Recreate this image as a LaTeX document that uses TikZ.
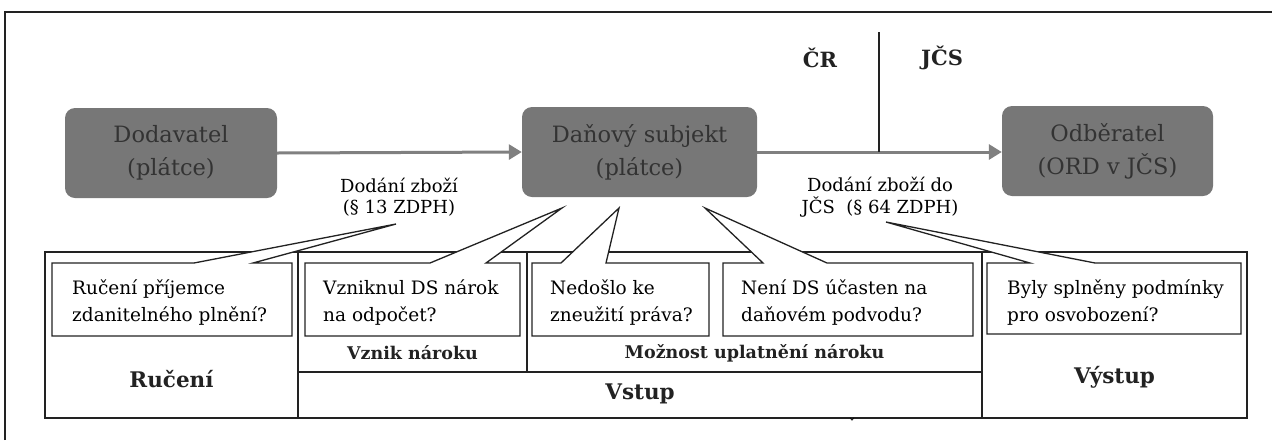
\documentclass[tikz,border=0pt]{standalone}
\usepackage{fontspec}
\setmainfont{DejaVu Serif}
\usetikzlibrary{arrows.meta}
\definecolor{boxgray}{HTML}{777777}
\definecolor{boxtext}{HTML}{333333}
\definecolor{arrgray}{HTML}{808080}
\definecolor{ink}{HTML}{222222}
\begin{document}
\begin{tikzpicture}[x=1pt,y=-1pt,
  party/.style={fill=boxgray, rounded corners=10pt, minimum width=#1, minimum height=90pt,
    inner sep=0pt, text=boxtext, font=\fontsize{22.5}{33}\selectfont, align=center},
  arr/.style={draw=arrgray, line width=3pt, -{Triangle[length=13pt,width=15pt]}},
  lbl/.style={font=\fontsize{18}{21.5}\selectfont, align=center, inner sep=0pt, text=black},
  qtext/.style={font=\fontsize{18.5}{27}\selectfont, align=left, inner sep=0pt, anchor=west, text=black},
  big/.style={font=\fontsize{21.5}{24}\bfseries\selectfont, inner sep=0pt, text=ink},
  sub/.style={font=\fontsize{17.5}{20}\bfseries\selectfont, inner sep=0pt, text=ink},
  tbl/.style={draw=ink, line width=1.3pt},
  callout/.style={draw=ink, line width=1.3pt, fill=white, line join=miter},
  frameline/.style={draw=ink, line width=2pt}
]
\useasboundingbox (0,0) rectangle (1282,440);

% outer frame (left and top)
\draw[frameline] (5,440) -- (5,12) -- (1272,12);

% parties
\node[party=212pt] (dod) at (171,153) {Dodavatel\\(plátce)};
\node[party=235pt] (dan) at (639.5,152) {Daňový subjekt\\(plátce)};
\node[party=211pt] (odb) at (1107.5,151) {Odběratel\\(ORD v JČS)};

\draw[arr] (dod.east) -- (dan.west);
\draw[arr] (dan.east) -- (odb.west |- dan.east);

% border CR / JCS
\coordinate (btop) at (879,32);
\coordinate (bbot) at (879,152);
\draw[draw=ink, line width=1.6pt] (btop) -- (bbot);
\node[big, font=\fontsize{21}{24}\bfseries\selectfont] (cr) at (820,58) {ČR};
\node[big, font=\fontsize{21}{24}\bfseries\selectfont] (jcs) at (942,58) {JČS};

% flow labels
\node[lbl] (l1) at (399,197) {Dodání zboží\\(§ 13 ZDPH)};
\node[lbl] (l2) at (880,197) {Dodání zboží do\\JČS~ (§ 64 ZDPH)};

% table
\draw[tbl] (45,252) rectangle (298,418);
\draw[tbl] (298,252) rectangle (982,418);
\draw[tbl] (982,252) rectangle (1247,418);
\draw[tbl] (298,372) -- (982,372);
\draw[tbl] (527,252) -- (527,372);

% callouts
\draw[callout] (52,336) -- (52,263) -- (194,263) -- (396,224) -- (253,263) -- (292,263) -- (292,336) -- cycle;
\draw[callout] (305,336) -- (305,263) -- (430,263) -- (562,208) -- (486,263) -- (520,263) -- (520,336) -- cycle;
\draw[callout] (532,336) -- (532,263) -- (561,263) -- (619,208) -- (606,263) -- (709,263) -- (709,336) -- cycle;
\draw[callout] (723,336) -- (723,263) -- (763,263) -- (705,208) -- (827,263) -- (973,263) -- (973,336) -- cycle;
\draw[callout] (987,334) -- (987,263) -- (1030,263) -- (886,222) -- (1095,263) -- (1241,263) -- (1241,334) -- cycle;

\node[qtext] (q1) at (72,303) {Ručení příjemce\\zdanitelného plnění?};
\node[qtext] (q2) at (323,303) {Vzniknul DS nárok\\na odpočet?};
\node[qtext] (q3) at (550,303) {Nedošlo ke\\zneužití práva?};
\node[qtext] (q4) at (741,303) {Není DS účasten na\\daňovém podvodu?};
\node[qtext] (q5) at (1007,303) {Byly splněny podmínky\\pro osvobození?};

% section titles
\node[sub] (vz) at (412.5,353) {Vznik nároku};
\node[sub] (mo) at (754.5,353) {Možnost uplatnění nároku};
\node[big] (ru) at (171.5,379) {Ručení};
\node[big] (vs) at (640,394) {Vstup};
\node[big] (vy) at (1114.5,377) {Výstup};

% stray mark
\node[font=\fontsize{14}{16}\selectfont, inner sep=0pt] (mark) at (852,424) {ˇ};
\end{tikzpicture}
\end{document}
